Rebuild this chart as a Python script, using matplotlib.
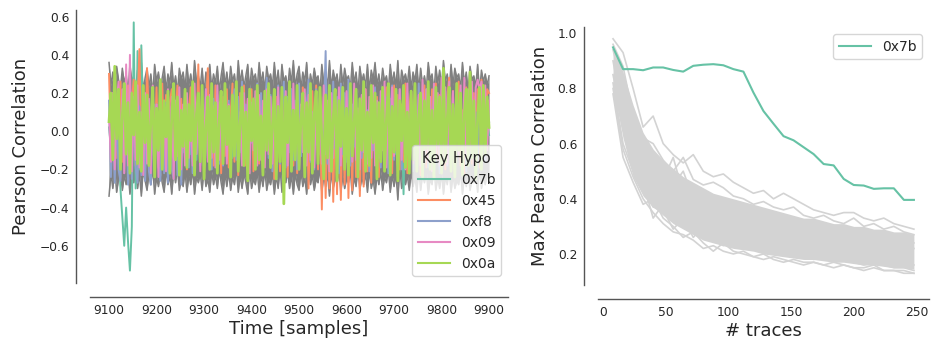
import matplotlib
matplotlib.use("Agg")
import matplotlib.pyplot as plt
import numpy as np

# ------------------------------
# DATA
# ------------------------------
time = np.arange(9100, 9901, 4)

# envelope of the other key hypotheses
others_hi = [0.36, 0.24, 0.31, 0.21, 0.34, 0.27, 0.22, 0.33, 0.25, 0.30, 0.20, 0.35, 0.26, 0.29, 0.22, 0.32, 0.24, 0.36, 0.21, 0.28,
             0.33, 0.23, 0.30, 0.19, 0.35, 0.26, 0.31, 0.22, 0.28, 0.34, 0.21, 0.30, 0.25, 0.36, 0.23, 0.29, 0.20, 0.33, 0.27, 0.31,
             0.22, 0.35, 0.24, 0.30, 0.21, 0.37, 0.26, 0.29, 0.23, 0.33, 0.20, 0.31, 0.27, 0.35, 0.22, 0.30, 0.25, 0.34, 0.21, 0.29,
             0.36, 0.24, 0.31, 0.22, 0.34, 0.26, 0.30, 0.20, 0.37, 0.25, 0.32, 0.23, 0.29, 0.35, 0.21, 0.33, 0.27, 0.30, 0.22, 0.36,
             0.25, 0.31, 0.21, 0.34, 0.27, 0.30, 0.23, 0.36, 0.24, 0.32, 0.20, 0.35, 0.26, 0.29, 0.22, 0.33, 0.25, 0.37, 0.23, 0.30,
             0.34, 0.22, 0.31, 0.26, 0.36, 0.21, 0.30, 0.24, 0.33, 0.27, 0.29, 0.20, 0.35, 0.25, 0.31, 0.23, 0.37, 0.22, 0.32, 0.26,
             0.30, 0.21, 0.35, 0.24, 0.33, 0.27, 0.29, 0.22, 0.36, 0.25, 0.31, 0.20, 0.34, 0.26, 0.30, 0.23, 0.35, 0.21, 0.32, 0.27,
             0.36, 0.24, 0.30, 0.22, 0.33, 0.26, 0.29, 0.21, 0.35, 0.25, 0.31, 0.23, 0.37, 0.20, 0.32, 0.27, 0.30, 0.24, 0.34, 0.22,
             0.31, 0.26, 0.35, 0.21, 0.33, 0.24, 0.29, 0.22, 0.36, 0.27, 0.30, 0.20, 0.34, 0.25, 0.32, 0.23, 0.37, 0.26, 0.30, 0.21,
             0.35, 0.24, 0.33, 0.28, 0.30, 0.22, 0.36, 0.25, 0.31, 0.21, 0.34, 0.27, 0.29, 0.23, 0.35, 0.20, 0.32, 0.26, 0.30, 0.24,
             0.29]
others_lo = [-0.34, -0.22, -0.30, -0.19, -0.32, -0.25, -0.21, -0.31, -0.23, -0.28, -0.20, -0.33, -0.24, -0.27, -0.21, -0.30, -0.22, -0.34, -0.20, -0.26,
             -0.31, -0.22, -0.28, -0.19, -0.33, -0.24, -0.29, -0.21, -0.27, -0.32, -0.20, -0.28, -0.23, -0.33, -0.21, -0.27, -0.19, -0.31, -0.25, -0.29,
             -0.21, -0.32, -0.23, -0.28, -0.20, -0.33, -0.24, -0.27, -0.22, -0.31, -0.19, -0.29, -0.25, -0.32, -0.21, -0.28, -0.23, -0.30, -0.20, -0.27,
             -0.33, -0.22, -0.29, -0.21, -0.31, -0.24, -0.28, -0.19, -0.32, -0.23, -0.30, -0.22, -0.27, -0.33, -0.20, -0.30, -0.25, -0.28, -0.21, -0.32,
             -0.23, -0.29, -0.20, -0.31, -0.25, -0.28, -0.22, -0.33, -0.23, -0.30, -0.19, -0.32, -0.24, -0.27, -0.21, -0.30, -0.23, -0.33, -0.22, -0.28,
             -0.31, -0.21, -0.29, -0.24, -0.33, -0.20, -0.28, -0.23, -0.31, -0.25, -0.27, -0.19, -0.32, -0.23, -0.29, -0.22, -0.34, -0.21, -0.30, -0.24,
             -0.28, -0.20, -0.32, -0.23, -0.30, -0.25, -0.27, -0.21, -0.33, -0.24, -0.29, -0.19, -0.31, -0.24, -0.28, -0.22, -0.32, -0.20, -0.30, -0.25,
             -0.33, -0.23, -0.28, -0.21, -0.31, -0.24, -0.27, -0.20, -0.32, -0.23, -0.29, -0.22, -0.36, -0.19, -0.30, -0.25, -0.28, -0.23, -0.31, -0.21,
             -0.29, -0.24, -0.32, -0.20, -0.31, -0.23, -0.27, -0.21, -0.33, -0.25, -0.28, -0.19, -0.31, -0.24, -0.30, -0.22, -0.33, -0.24, -0.28, -0.20,
             -0.32, -0.23, -0.30, -0.26, -0.28, -0.21, -0.33, -0.24, -0.29, -0.20, -0.31, -0.25, -0.27, -0.22, -0.32, -0.19, -0.30, -0.24, -0.28, -0.22,
             -0.27]

key_names = ["0x7b", "0x45", "0xf8", "0x09", "0x0a"]
key_colors = ["#66c2a5", "#fc8d62", "#8da0cb", "#e78ac3", "#a6d854"]
key_widths = [1.4, 1.4, 1.4, 1.4, 2.0]

corr_7b = [0.02, -0.08, 0.06, -0.12, 0.10, -0.05, -0.30, -0.45, -0.60, -0.40, -0.58, -0.73, -0.50, 0.57, -0.30, 0.42, -0.20, 0.45, 0.05, 0.12,
           -0.06, 0.10, -0.12, 0.04, 0.14, -0.09, 0.07, -0.13, 0.11, -0.03, 0.08, -0.10, 0.13, -0.07, 0.05, -0.14, 0.09, -0.02, 0.12, -0.11,
           0.06, -0.08, 0.13, -0.12, 0.03, 0.10, -0.15, 0.07, -0.05, 0.12, -0.09, 0.04, -0.13, 0.11, -0.06, 0.09, -0.10, 0.14, -0.04, 0.08,
           -0.12, 0.05, 0.11, -0.08, 0.13, -0.14, 0.06, -0.03, 0.10, -0.11, 0.08, -0.07, 0.12, -0.13, 0.04, 0.09, -0.10, 0.06, -0.15, 0.11,
           -0.05, 0.13, -0.09, 0.07, -0.12, 0.10, -0.04, 0.14, -0.11, 0.05, -0.08, 0.12, -0.14, 0.08, -0.06, 0.11, -0.10, 0.03, 0.13, -0.07,
           0.09, -0.13, 0.06, -0.10, 0.12, -0.05, 0.08, -0.14, 0.11, -0.07, 0.04, -0.12, 0.10, -0.08, 0.13, -0.03, 0.07, -0.11, 0.09, -0.06,
           0.12, -0.09, 0.05, -0.13, 0.10, -0.04, 0.14, -0.11, 0.07, -0.08, 0.11, -0.12, 0.03, 0.09, -0.10, 0.13, -0.06, 0.08, -0.14, 0.05,
           -0.07, 0.11, -0.13, 0.06, -0.09, 0.12, -0.05, 0.10, -0.11, 0.04, 0.08, -0.12, 0.13, -0.06, 0.09, -0.33, 0.11, -0.08, 0.05, -0.10,
           0.13, -0.04, 0.07, -0.11, 0.10, -0.13, 0.06, -0.08, 0.12, -0.05, 0.09, -0.14, 0.11, -0.07, 0.04, -0.10, 0.13, -0.06, 0.08, -0.12,
           0.05, -0.09, 0.12, -0.03, 0.10, -0.11, 0.07, -0.13, 0.09, -0.06, 0.14, -0.08, 0.04, -0.12, 0.11, -0.05, 0.08, -0.10, 0.06, 0.03,
           -0.02]
corr_45 = [0.30, -0.08, 0.18, 0.22, -0.14, 0.10, 0.26, -0.16, 0.20, -0.05, 0.24, -0.12, 0.16, 0.27, -0.18, 0.14, 0.43, -0.10, 0.21, -0.15,
           0.33, 0.06, -0.17, 0.22, -0.11, 0.23, -0.19, 0.12, 0.25, -0.07, 0.19, -0.21, 0.15, 0.22, -0.14, 0.08, 0.24, -0.18, 0.17, -0.09,
           0.21, -0.20, 0.10, 0.23, -0.16, 0.18, -0.06, 0.35, -0.14, 0.22, -0.22, 0.13, 0.33, -0.10, 0.19, -0.18, 0.24, -0.04, 0.15, -0.22,
           0.18, -0.13, 0.22, -0.19, 0.09, 0.25, -0.16, 0.14, -0.23, 0.20, -0.10, 0.24, -0.18, 0.16, -0.12, 0.22, -0.21, 0.07, 0.23, -0.17,
           0.14, -0.22, 0.21, -0.08, 0.24, -0.19, 0.11, -0.25, 0.18, 0.04, -0.21, 0.22, -0.14, 0.17, -0.24, 0.13, 0.22, -0.18, 0.10, -0.22,
           0.20, -0.11, 0.23, -0.18, 0.15, -0.30, 0.06, 0.21, -0.16, 0.24, -0.20, 0.12, -0.41, 0.18, -0.35, 0.08, -0.30, 0.19, -0.37, 0.14,
           -0.33, 0.16, -0.36, 0.10, -0.28, 0.20, -0.35, 0.14, -0.31, 0.22, -0.24, 0.09, -0.34, 0.18, -0.29, 0.22, -0.21, 0.11, -0.27, 0.21,
           -0.14, 0.18, -0.24, 0.07, 0.22, -0.18, 0.23, -0.13, 0.17, -0.22, 0.24, -0.10, 0.19, -0.20, 0.14, -0.16, 0.25, -0.22, 0.12, 0.21,
           -0.18, 0.22, -0.14, 0.18, -0.23, 0.10, 0.24, -0.19, 0.15, -0.11, 0.22, -0.21, 0.25, -0.15, 0.19, -0.08, 0.23, -0.20, 0.17, 0.28,
           -0.16, 0.21, -0.22, 0.14, 0.26, -0.18, 0.11, -0.22, 0.23, -0.13, 0.29, -0.17, 0.20, -0.09, 0.22, -0.19, 0.27, 0.15, -0.14, 0.22,
           0.20]
corr_f8 = [0.16, -0.24, 0.04, -0.27, 0.11, -0.20, -0.26, 0.08, -0.22, 0.14, -0.28, 0.02, -0.25, 0.10, -0.19, -0.27, 0.13, -0.23, 0.06, -0.26,
           0.10, -0.21, -0.28, 0.07, -0.24, 0.14, -0.18, -0.26, 0.09, -0.22, 0.15, -0.27, 0.05, -0.20, -0.25, 0.12, -0.23, 0.08, -0.28, 0.11,
           -0.15, 0.18, -0.19, 0.06, -0.22, 0.14, -0.12, 0.20, -0.18, 0.10, -0.16, 0.22, -0.14, 0.03, -0.20, 0.17, -0.10, 0.19, -0.17, 0.13,
           -0.18, 0.21, -0.08, 0.16, -0.21, 0.11, 0.22, -0.15, 0.18, -0.10, 0.26, -0.18, 0.14, -0.19, 0.21, -0.06, 0.17, -0.16, 0.25, -0.12,
           0.20, -0.18, 0.09, 0.28, -0.14, 0.19, -0.21, 0.15, -0.07, 0.24, -0.17, 0.12, 0.26, -0.19, 0.18, -0.11, 0.22, -0.15, 0.16, -0.20,
           0.25, -0.13, 0.18, -0.18, 0.14, 0.27, -0.16, 0.10, -0.20, 0.22, -0.10, 0.19, -0.15, 0.06, 0.42, -0.17, 0.21, -0.19, 0.26, -0.09,
           0.18, -0.22, 0.25, -0.12, 0.20, -0.16, 0.27, -0.18, 0.14, -0.08, 0.22, -0.20, 0.17, -0.14, 0.26, -0.18, 0.11, -0.21, 0.19, -0.10,
           0.23, -0.17, 0.13, -0.19, 0.21, -0.14, 0.18, -0.22, 0.08, 0.24, -0.15, 0.18, -0.11, 0.22, -0.20, 0.14, -0.18, 0.20, -0.07, 0.17,
           -0.21, 0.19, -0.14, 0.25, -0.18, 0.10, -0.16, 0.22, -0.19, 0.14, -0.09, 0.23, -0.17, 0.18, -0.22, 0.15, -0.13, 0.21, -0.18, 0.12,
           -0.15, 0.20, -0.19, 0.16, -0.10, 0.22, -0.17, 0.13, -0.21, 0.18, -0.14, 0.24, -0.18, 0.10, -0.20, 0.19, -0.14, 0.17, -0.16, 0.08,
           0.05]
corr_09 = [0.08, -0.16, 0.20, -0.20, 0.15, 0.26, -0.12, 0.22, -0.22, 0.35, -0.18, 0.40, -0.21, 0.18, -0.15, 0.24, -0.19, 0.10, -0.23, 0.20,
           -0.17, 0.17, -0.22, 0.24, -0.14, 0.14, -0.24, 0.21, -0.19, 0.09, -0.21, 0.22, -0.16, 0.18, -0.25, 0.16, -0.13, 0.23, -0.20, 0.14,
           -0.18, 0.20, -0.14, 0.11, -0.18, 0.25, -0.12, 0.17, -0.21, 0.15, -0.10, 0.22, -0.16, 0.19, -0.14, 0.13, -0.19, 0.24, -0.15, 0.18,
           -0.11, 0.21, -0.17, 0.14, -0.20, 0.18, -0.13, 0.23, -0.16, 0.10, -0.18, 0.20, -0.14, 0.17, -0.22, 0.15, -0.10, 0.21, -0.18, 0.19,
           -0.15, 0.16, -0.19, 0.22, -0.12, 0.18, -0.17, 0.14, -0.21, 0.23, -0.14, 0.19, -0.10, 0.21, -0.18, 0.15, -0.16, 0.25, -0.13, 0.17,
           -0.20, 0.14, -0.11, 0.22, -0.18, 0.19, -0.15, 0.10, -0.19, 0.21, -0.14, 0.18, -0.17, 0.24, -0.12, 0.16, -0.21, 0.20, -0.14, 0.18,
           -0.10, 0.23, -0.18, 0.15, -0.19, 0.21, -0.13, 0.17, -0.16, 0.25, -0.15, 0.12, -0.20, 0.19, -0.11, 0.22, -0.17, 0.18, -0.14, 0.24,
           -0.18, 0.16, -0.14, 0.21, -0.10, 0.26, -0.19, 0.14, -0.16, 0.23, -0.13, 0.19, -0.18, 0.22, -0.15, 0.18, -0.20, 0.25, -0.12, 0.21,
           -0.17, 0.24, -0.14, 0.19, -0.18, 0.27, -0.11, 0.22, -0.16, 0.18, -0.21, 0.25, -0.14, 0.20, -0.18, 0.28, -0.13, 0.23, -0.17, 0.26,
           -0.15, 0.21, -0.19, 0.25, -0.12, 0.24, -0.16, 0.28, -0.14, 0.22, -0.10, 0.26, -0.18, 0.23, 0.27, 0.22, 0.26, -0.05, 0.24, -0.10,
           0.16]
corr_0a = [0.05, 0.20, -0.15, 0.34, -0.04, 0.22, -0.20, 0.08, 0.25, -0.12, 0.15, -0.22, 0.20, -0.02, 0.26, -0.17, 0.10, -0.21, 0.24, -0.06,
           0.19, -0.18, 0.05, 0.23, -0.24, 0.12, -0.10, 0.27, -0.20, 0.16, -0.03, 0.21, -0.22, 0.07, 0.25, -0.15, 0.18, -0.23, 0.11, -0.08,
           0.22, -0.19, 0.14, -0.05, 0.26, -0.23, 0.09, 0.20, -0.16, 0.24, -0.25, 0.02, 0.18, -0.20, 0.25, -0.11, 0.15, -0.22, 0.06, 0.21,
           -0.17, 0.25, -0.07, 0.13, -0.24, 0.19, -0.13, 0.26, -0.21, 0.04, 0.23, -0.18, 0.10, -0.26, 0.22, -0.05, 0.17, -0.20, 0.24, -0.15,
           0.08, -0.23, 0.21, -0.10, 0.25, -0.19, 0.03, 0.22, -0.25, 0.13, -0.16, 0.23, -0.38, 0.18, -0.06, 0.26, -0.21, 0.11, -0.15, 0.24,
           -0.20, 0.06, 0.20, -0.24, 0.15, -0.11, 0.25, -0.22, 0.09, 0.21, -0.17, 0.23, -0.04, -0.25, 0.19, -0.14, 0.24, -0.21, 0.07, 0.22,
           -0.26, 0.16, -0.08, 0.23, -0.20, 0.12, -0.23, 0.25, -0.13, 0.05, 0.22, -0.24, 0.17, -0.10, 0.26, -0.21, 0.10, -0.18, 0.24, -0.06,
           0.20, -0.25, 0.15, -0.16, 0.23, -0.21, 0.06, 0.25, -0.23, 0.13, -0.11, 0.22, -0.26, 0.16, -0.05, 0.24, -0.19, 0.10, -0.22, 0.21,
           -0.15, 0.25, -0.21, 0.08, 0.20, -0.24, 0.16, -0.09, 0.26, -0.20, 0.11, -0.25, 0.23, -0.07, 0.18, -0.22, 0.33, -0.16, 0.06, 0.23,
           -0.21, 0.14, -0.24, 0.25, -0.10, 0.20, -0.23, 0.09, 0.22, -0.18, 0.31, -0.14, 0.16, -0.25, 0.07, 0.23, -0.20, 0.24, -0.12, 0.18,
           0.02]
key_corrs = [corr_7b, corr_45, corr_f8, corr_09, corr_0a]

# max correlation vs number of traces
n_traces = np.arange(8, 249, 8)
max_corr_7b = [0.949, 0.870, 0.870, 0.866, 0.876, 0.876, 0.867, 0.861, 0.882, 0.886,
               0.888, 0.884, 0.870, 0.861, 0.785, 0.718, 0.672, 0.627, 0.612, 0.587,
               0.562, 0.526, 0.521, 0.472, 0.450, 0.448, 0.436, 0.438, 0.438, 0.396,
               0.396]
wrong_hi = [0.96, 0.86, 0.74, 0.64, 0.58, 0.54, 0.51, 0.48, 0.46, 0.44,
            0.42, 0.41, 0.40, 0.39, 0.38, 0.37, 0.36, 0.35, 0.34, 0.33,
            0.33, 0.32, 0.31, 0.31, 0.30, 0.30, 0.29, 0.29, 0.28, 0.28, 0.27]
wrong_lo = [0.80, 0.62, 0.48, 0.41, 0.37, 0.34, 0.31, 0.29, 0.27, 0.25,
            0.24, 0.23, 0.22, 0.215, 0.21, 0.20, 0.195, 0.19, 0.185, 0.18,
            0.18, 0.175, 0.17, 0.17, 0.165, 0.16, 0.16, 0.155, 0.15, 0.15, 0.145]
wrong_keys = [
    [0.98, 0.93, 0.80, 0.66, 0.70, 0.60, 0.56, 0.53, 0.56, 0.50, 0.48, 0.49, 0.46, 0.44, 0.42, 0.43,
     0.40, 0.42, 0.40, 0.38, 0.36, 0.35, 0.34, 0.35, 0.35, 0.33, 0.32, 0.33, 0.31, 0.30, 0.29],
    [0.78, 0.55, 0.46, 0.38, 0.40, 0.33, 0.30, 0.26, 0.28, 0.24, 0.21, 0.24, 0.21, 0.20, 0.19, 0.20,
     0.18, 0.17, 0.18, 0.17, 0.17, 0.16, 0.17, 0.16, 0.15, 0.15, 0.16, 0.14, 0.14, 0.14, 0.13],
    [0.90, 0.70, 0.60, 0.55, 0.50, 0.52, 0.45, 0.50, 0.40, 0.42, 0.38, 0.36, 0.38, 0.34, 0.36, 0.35,
     0.32, 0.33, 0.30, 0.31, 0.30, 0.28, 0.29, 0.27, 0.28, 0.26, 0.27, 0.25, 0.26, 0.25, 0.24],
    [0.85, 0.66, 0.52, 0.46, 0.33, 0.38, 0.36, 0.30, 0.32, 0.28, 0.27, 0.26, 0.24, 0.25, 0.23, 0.22,
     0.23, 0.21, 0.22, 0.20, 0.21, 0.19, 0.20, 0.19, 0.18, 0.19, 0.18, 0.17, 0.18, 0.17, 0.16],
    [0.94, 0.80, 0.64, 0.58, 0.56, 0.47, 0.55, 0.42, 0.44, 0.40, 0.36, 0.39, 0.35, 0.33, 0.34, 0.31,
     0.32, 0.29, 0.30, 0.28, 0.29, 0.27, 0.26, 0.27, 0.26, 0.25, 0.24, 0.25, 0.24, 0.23, 0.22],
    [0.82, 0.60, 0.50, 0.43, 0.37, 0.36, 0.29, 0.33, 0.26, 0.30, 0.25, 0.23, 0.25, 0.22, 0.24, 0.21,
     0.20, 0.22, 0.19, 0.20, 0.18, 0.19, 0.17, 0.18, 0.17, 0.16, 0.17, 0.16, 0.15, 0.15, 0.14],
    [0.96, 0.88, 0.70, 0.62, 0.60, 0.54, 0.50, 0.55, 0.47, 0.45, 0.46, 0.44, 0.41, 0.40, 0.38, 0.39,
     0.37, 0.36, 0.37, 0.34, 0.33, 0.34, 0.32, 0.31, 0.33, 0.30, 0.31, 0.29, 0.30, 0.28, 0.27],
    [0.80, 0.58, 0.48, 0.40, 0.35, 0.31, 0.28, 0.27, 0.25, 0.22, 0.23, 0.21, 0.20, 0.21, 0.19, 0.18,
     0.19, 0.18, 0.17, 0.16, 0.17, 0.16, 0.15, 0.16, 0.15, 0.14, 0.15, 0.14, 0.14, 0.13, 0.13],
]

# ------------------------------
# STYLE
# ------------------------------
TEXT = "#262626"
plt.rcParams.update({
    "font.family": "DejaVu Sans",
    "text.color": TEXT,
    "axes.labelcolor": TEXT,
    "xtick.color": TEXT,
    "ytick.color": TEXT,
})

fig = plt.figure(figsize=(9.31, 3.43), dpi=100)
ax1 = fig.add_axes([0.0967, 0.1749, 0.449, 0.796])
ax2 = fig.add_axes([0.6423, 0.1691, 0.3555, 0.752])


def despine(ax):
    for side in ("top", "right"):
        ax.spines[side].set_visible(False)
    for side in ("left", "bottom"):
        ax.spines[side].set_position(("outward", 10))
        ax.spines[side].set_color("#555555")
        ax.spines[side].set_linewidth(1.0)
    ax.tick_params(length=0, labelsize=8.8, pad=5)


# ------------------------------
# Left: correlation over time
# ------------------------------
ax1.fill_between(time, others_lo, others_hi, color="grey", lw=0)
ax1.plot(time, others_hi, color="grey", lw=1.1)
ax1.plot(time, others_lo, color="grey", lw=1.1)
for name, col, lw, vals in zip(key_names, key_colors, key_widths, key_corrs):
    ax1.plot(time, vals, color=col, lw=lw, label=name)

ax1.set_xticks(np.arange(9100, 9901, 100))
ax1.set_yticks([-0.6, -0.4, -0.2, 0.0, 0.2, 0.4, 0.6])
ax1.set_xlabel("Time [samples]", fontsize=13, labelpad=2)
ax1.set_ylabel("Pearson Correlation", fontsize=13, labelpad=7)
despine(ax1)
leg = ax1.legend(title="Key Hypo", loc="lower right", fontsize=10, title_fontsize=10.5,
                 frameon=True, handlelength=2.3)
leg.get_frame().set_edgecolor("#cccccc")
for h in leg.legend_handles:
    h.set_linewidth(1.5)

# ------------------------------
# Right: max correlation vs traces
# ------------------------------
ax2.fill_between(n_traces, wrong_lo, wrong_hi, color="lightgrey", lw=0)
for vals in wrong_keys:
    ax2.plot(n_traces, vals, color="lightgrey", lw=1.2)
ax2.plot(n_traces, max_corr_7b, color=key_colors[0], lw=1.5, label="0x7b")

ax2.set_xticks([0, 50, 100, 150, 200, 250])
ax2.set_yticks([0.2, 0.4, 0.6, 0.8, 1.0])
ax2.set_xlabel("# traces", fontsize=13, labelpad=2)
ax2.set_ylabel("Max Pearson Correlation", fontsize=13, labelpad=6)
despine(ax2)
leg2 = ax2.legend(loc="upper right", fontsize=10, frameon=True, handlelength=2.3)
leg2.get_frame().set_edgecolor("#cccccc")

fig.savefig("out.png", dpi=100)
